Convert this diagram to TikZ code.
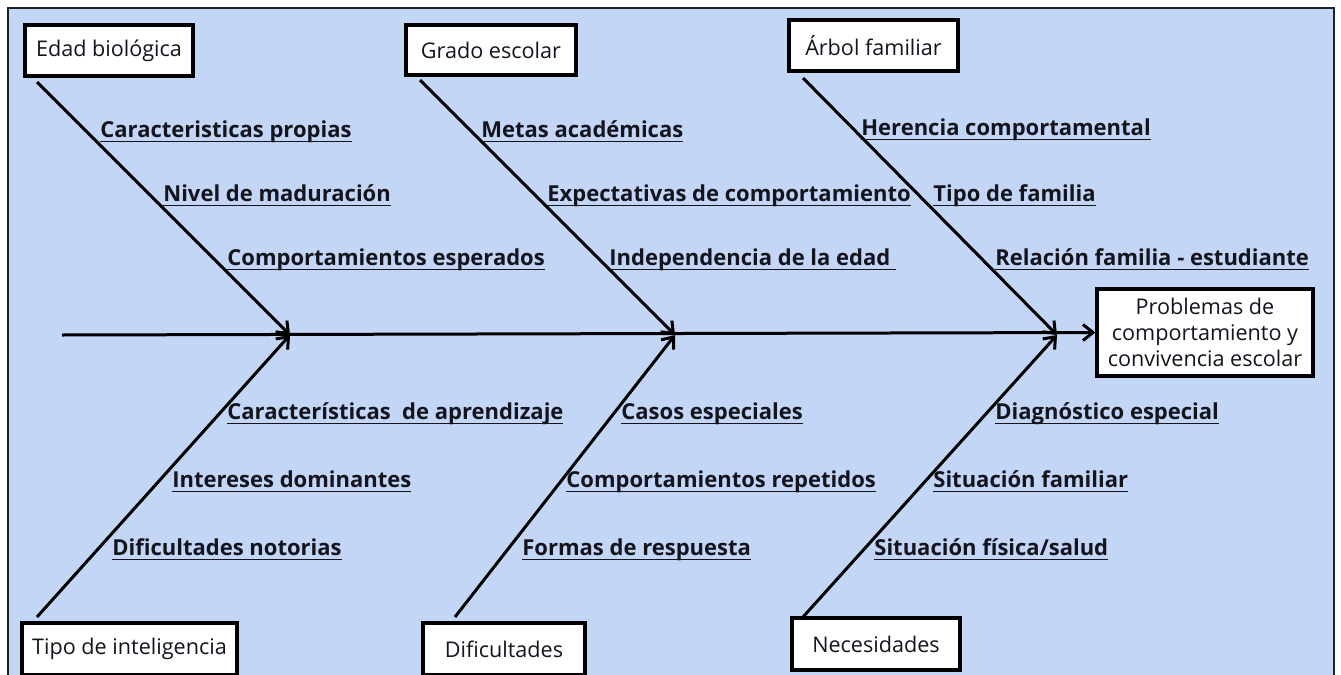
\documentclass[tikz,border=0pt]{standalone}
\usepackage{fontspec}
\setmainfont{Open Sans}
\usetikzlibrary{arrows.meta}
\definecolor{fondo}{HTML}{C4D6F5}
\definecolor{marco}{HTML}{1E2126}
\definecolor{letra}{HTML}{14141E}
\newcommand{\subrayar}[1]{\setbox0\hbox{#1}\rlap{\rule[-2.6pt]{\wd0}{0.75pt}}\box0}

\begin{document}
\begin{tikzpicture}[x=0.5pt,y=-0.5pt]
    \tikzstyle{causa}=[rectangle, draw, line width=1.6pt, fill=white, inner sep=0pt, font=\fontsize{10.8}{13}\selectfont, text=letra]
    \tikzstyle{sub}=[anchor=base west, inner sep=0pt, font=\fontsize{11}{13}\selectfont\bfseries, text=letra]
    \tikzstyle{hueso}=[line width=1.5pt, -{Straight Barb[length=5pt,width=8pt]}]

    % fondo
    \useasboundingbox (0,0) rectangle (1341,675);
    \fill[white] (0,0) rectangle (1341,675);
    \filldraw[fill=fondo, draw=marco, line width=0.8pt] (8,680) -- (8,8) -- (1334,8) -- (1334,680);

    % cajas
    \node[causa, minimum width=84pt, minimum height=25.5pt] (edad) at (109,50.5) {Edad biológica};
    \node[causa, minimum width=85pt, minimum height=25pt] (grado) at (491,50) {Grado escolar};
    \node[causa, minimum width=84.5pt, minimum height=25.5pt] (arbol) at (873.5,45.5) {Árbol familiar};
    \node[causa, minimum width=107.5pt, minimum height=26pt] (tipo) at (129.5,649) {Tipo de inteligencia};
    \node[causa, minimum width=81pt, minimum height=26pt] (dific) at (504,649) {Dificultades};
    \node[causa, minimum width=84pt, minimum height=26pt] (neces) at (876,644) {Necesidades};
    \node[causa, minimum width=108pt, minimum height=43.5pt, align=center] (efecto) at (1205,332.5) {Problemas de\\comportamiento y\\convivencia escolar};

    % espina
    \coordinate (cola) at (62,335);
    \coordinate (j1) at (290,335);
    \coordinate (j2) at (675,335);
    \coordinate (j3) at (1057,335);
    \coordinate (e1) at (37,82);
    \coordinate (e2) at (420,80);
    \coordinate (e3) at (803,78);
    \coordinate (i1) at (37,617);
    \coordinate (i2) at (455,617);
    \coordinate (i3) at (803,617);
    \draw[hueso] (cola) -- (efecto.west);
    \foreach \n in {1,2,3} {
        \draw[hueso] (e\n) -- (j\n);
        \draw[hueso] (i\n) -- (j\n);
    }

    % subcausas
    \node[sub] (s1) at (100,137) {\subrayar{Caracteristicas propias}};
    \node[sub] (s2) at (163,201) {\subrayar{Nivel de maduración}};
    \node[sub] (s3) at (227,265) {\subrayar{Comportamientos esperados}};
    \node[sub] (s4) at (481,137) {\subrayar{Metas académicas}};
    \node[sub] (s5) at (547,201) {\subrayar{Expectativas de comportamiento}};
    \node[sub] (s6) at (609,265) {\subrayar{Independencia de la edad\ }};
    \node[sub] (s7) at (861,135) {\subrayar{Herencia comportamental}};
    \node[sub] (s8) at (933,201) {\subrayar{Tipo de familia}};
    \node[sub] (s9) at (995,265) {\subrayar{Relación familia - estudiante}};
    \node[sub] (s10) at (227,419) {\subrayar{Características\ \ de aprendizaje}};
    \node[sub] (s11) at (172,487) {\subrayar{Intereses dominantes}};
    \node[sub] (s12) at (112,555) {\subrayar{Dificultades notorias}};
    \node[sub] (s13) at (621,419) {\subrayar{Casos especiales}};
    \node[sub] (s14) at (566,487) {\subrayar{Comportamientos repetidos}};
    \node[sub] (s15) at (522,555) {\subrayar{Formas de respuesta}};
    \node[sub] (s16) at (995,419) {\subrayar{Diagnóstico especial}};
    \node[sub] (s17) at (933,487) {\subrayar{Situación familiar}};
    \node[sub] (s18) at (874,555) {\subrayar{Situación física/salud}};
\end{tikzpicture}
\end{document}
